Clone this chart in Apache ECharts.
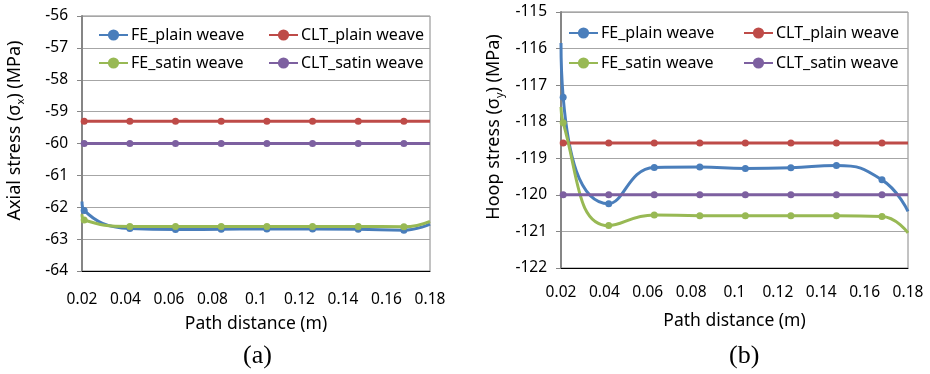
<!DOCTYPE html>
<html>
<head>
<meta charset="utf-8">
<script src="https://cdn.jsdelivr.net/npm/echarts@6/dist/echarts.min.js"></script>
<style>html,body{margin:0;padding:0;background:#fff}#c{width:930px;height:374px}</style>
</head>
<body>
<div id="c"></div>
<script>
// Path distance (m): first and last entries are where the curves meet the plot edges
const pathX = [0.02, 0.021, 0.042, 0.063, 0.084, 0.105, 0.126, 0.147, 0.168, 0.18];
const xTicks = ['0.02','0.04','0.06','0.08','0.1','0.12','0.14','0.16','0.18'];
const seriesNames = ['FE_plain weave', 'CLT_plain weave', 'FE_satin weave', 'CLT_satin weave'];

// (a) Axial stress (MPa)
const axialFEPlain  = [-61.82, -62.10, -62.67, -62.70, -62.69, -62.68, -62.68, -62.69, -62.72, -62.53];
const axialCLTPlain = [-59.3, -59.3, -59.3, -59.3, -59.3, -59.3, -59.3, -59.3, -59.3, -59.3];
const axialFESatin  = [-62.22, -62.40, -62.60, -62.60, -62.60, -62.60, -62.60, -62.60, -62.61, -62.44];
const axialCLTSatin = [-60.0, -60.0, -60.0, -60.0, -60.0, -60.0, -60.0, -60.0, -60.0, -60.0];

// (b) Hoop stress (MPa)
const hoopFEPlain  = [-115.85, -117.33, -120.24, -119.25, -119.24, -119.28, -119.26, -119.20, -119.59, -120.45];
const hoopCLTPlain = [-118.58, -118.58, -118.58, -118.58, -118.58, -118.58, -118.58, -118.58, -118.58, -118.58];
const hoopFESatin  = [-117.60, -118.03, -120.84, -120.55, -120.57, -120.57, -120.57, -120.57, -120.59, -121.04];
const hoopCLTSatin = [-120.0, -120.0, -120.0, -120.0, -120.0, -120.0, -120.0, -120.0, -120.0, -120.0];

const colors = ['#4A7EBB', '#BE4B48', '#98B954', '#7D60A0'];
const FONT = '"Noto Sans", "Open Sans", sans-serif';

function pts(ys) {
  return ys.map((y, i) => {
    const item = { value: [pathX[i], y] };
    if (i === 0 || i === ys.length - 1) item.symbol = 'none';
    return item;
  });
}

const chart = echarts.init(document.getElementById('c'), null, { renderer: 'canvas' });

const grids = [
  { left: 82, top: 16, width: 348, height: 255 },
  { left: 561, top: 12, width: 347, height: 256 }
];

function xAxisFor(gi, labelMargin, nameGap) {
  return {
    type: 'value', gridIndex: gi, min: 0.02, max: 0.18, interval: 0.02,
    axisLine: { show: true, onZero: false, lineStyle: { color: '#000', width: 1 } },
    axisTick: { show: false },
    splitLine: { show: false },
    axisLabel: { color: '#000', fontSize: 15.5, fontFamily: FONT, margin: labelMargin,
      formatter: (v) => xTicks[Math.round((v - 0.02) / 0.02)] },
    name: 'Path distance (m)', nameLocation: 'middle', nameGap: nameGap,
    nameTextStyle: { color: '#000', fontSize: 17.5, fontFamily: FONT }
  };
}

function yAxisFor(gi, min, max, sub, word) {
  return {
    type: 'value', gridIndex: gi, min: min, max: max, interval: 1,
    axisLine: { show: true, onZero: false, lineStyle: { color: '#868686', width: 2 } },
    axisTick: { show: true, inside: false, length: 5, lineStyle: { color: '#868686', width: 1 } },
    splitLine: { show: true, lineStyle: { color: '#A6A6A6', width: 1 } },
    axisLabel: { color: '#000', fontSize: 15.5, fontFamily: FONT, margin: 14 },
    name: '{t|' + word + ' stress (σ}{s|' + sub + '}{t|) (MPa)}',
    nameLocation: 'middle', nameRotate: 90, nameGap: 56,
    nameTextStyle: { padding: [0, 0, 0, 26],
      rich: {
        t: { fontSize: 18, fontFamily: FONT, color: '#000', lineHeight: 22 },
        s: { fontSize: 11, fontFamily: FONT, color: '#000', lineHeight: 22, verticalAlign: 'bottom' }
      } }
  };
}

function lineSeries(name, gi, ys, colorIdx) {
  return {
    type: 'line', name: name, xAxisIndex: gi, yAxisIndex: gi,
    data: pts(ys), smooth: 0.5, clip: true,
    symbol: 'circle', symbolSize: 7, showSymbol: true,
    lineStyle: { color: colors[colorIdx], width: 3 },
    itemStyle: { color: colors[colorIdx] },
    emphasis: { disabled: true }, z: 3
  };
}

// legend item positions (left x of icon, center y of row) per panel
const legendSpots = [
  [[98, 37], [268, 37], [98, 65], [268, 65]],
  [[568, 35], [743, 35], [568, 65], [743, 65]]
];
const legends = [];
legendSpots.forEach((spots) => {
  spots.forEach((p, k) => {
    legends.push({
      data: [seriesNames[k]], left: p[0], top: p[1] - 10, itemWidth: 29, itemHeight: 14,
      itemGap: 0, padding: 0, selectedMode: false,
      textStyle: { color: '#000', fontSize: 16, fontFamily: FONT, padding: [0, 0, 0, -2] }
    });
  });
});

const option = {
  animation: false,
  backgroundColor: '#fff',
  grid: grids.map(g => Object.assign({ show: true, borderColor: '#868686', borderWidth: 1, backgroundColor: 'transparent', containLabel: false }, g)),
  xAxis: [xAxisFor(0, 21, 44), xAxisFor(1, 17, 44)],
  yAxis: [yAxisFor(0, -64, -56, 'x', 'Axial'), yAxisFor(1, -122, -115, 'y', 'Hoop')],
  legend: legends,
  title: [
    { text: '(a)', left: 238, top: 338, textStyle: { fontFamily: '"Liberation Serif", serif', fontSize: 26, fontWeight: 'normal', color: '#000' } },
    { text: '(b)', left: 724, top: 338, textStyle: { fontFamily: '"Liberation Serif", serif', fontSize: 26, fontWeight: 'normal', color: '#000' } }
  ],
  series: [
    lineSeries(seriesNames[0], 0, axialFEPlain, 0),
    lineSeries(seriesNames[1], 0, axialCLTPlain, 1),
    lineSeries(seriesNames[2], 0, axialFESatin, 2),
    lineSeries(seriesNames[3], 0, axialCLTSatin, 3),
    lineSeries(seriesNames[0], 1, hoopFEPlain, 0),
    lineSeries(seriesNames[1], 1, hoopCLTPlain, 1),
    lineSeries(seriesNames[2], 1, hoopFESatin, 2),
    lineSeries(seriesNames[3], 1, hoopCLTSatin, 3)
  ]
};
chart.setOption(option);
</script>
</body>
</html>
